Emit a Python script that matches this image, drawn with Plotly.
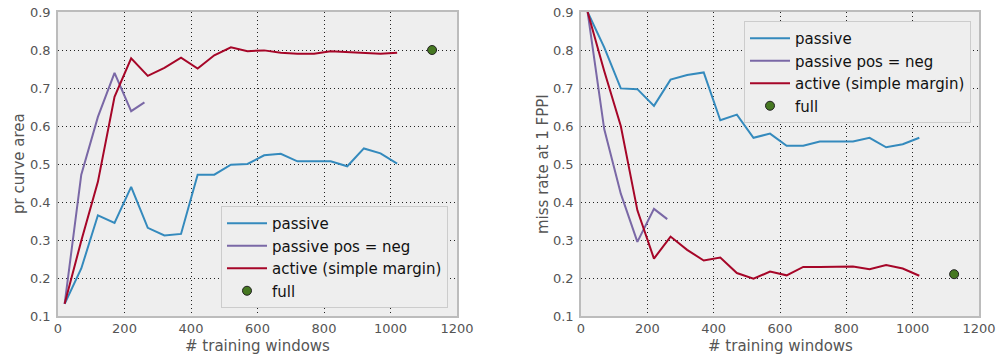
import plotly.graph_objects as go

x_main = [20, 70, 120, 170, 220, 270, 320, 370, 420, 470, 520, 570, 620, 670, 720, 770, 820, 870, 920, 970, 1020]
x_posneg = [20, 70, 120, 170, 220, 260]
x_full = [1125]

# left: pr curve area
pr_passive = [0.132, 0.225, 0.365, 0.345, 0.440, 0.332, 0.312, 0.316, 0.472, 0.472, 0.498,
              0.500, 0.523, 0.527, 0.507, 0.507, 0.507, 0.494, 0.541, 0.528, 0.501]
pr_posneg = [0.132, 0.472, 0.624, 0.740, 0.639, 0.662]
pr_active = [0.132, 0.298, 0.453, 0.677, 0.778, 0.732, 0.753, 0.780, 0.751, 0.786, 0.807,
             0.797, 0.799, 0.793, 0.790, 0.790, 0.797, 0.795, 0.792, 0.790, 0.793]
pr_full = [0.800]

# right: miss rate at 1 FPPI
mr_passive = [0.900, 0.807, 0.699, 0.697, 0.653, 0.722, 0.734, 0.741, 0.615, 0.630, 0.569,
              0.580, 0.548, 0.548, 0.559, 0.559, 0.559, 0.569, 0.544, 0.552, 0.569]
mr_posneg = [0.900, 0.592, 0.422, 0.295, 0.382, 0.355]
mr_active = [0.900, 0.745, 0.600, 0.378, 0.251, 0.309, 0.274, 0.246, 0.254, 0.213, 0.198,
             0.217, 0.207, 0.229, 0.229, 0.229, 0.230, 0.223, 0.234, 0.225, 0.206]
mr_full = [0.210]

names = ["passive", "passive pos = neg", "active (simple margin)", "full"]
colors = ["#348ABD", "#7A68A6", "#A60628", "#467821"]
x_ticks = [0, 200, 400, 600, 800, 1000, 1200]
y_ticks = [0.1, 0.2, 0.3, 0.4, 0.5, 0.6, 0.7, 0.8, 0.9]

W, H = 997, 356
FONT = "DejaVu Sans"

fig = go.Figure()

def add_panel(xa, ya, leg, ys_passive, ys_posneg, ys_active, ys_full):
    fig.add_trace(go.Scatter(x=x_main, y=ys_passive, mode="lines", name=names[0],
                             line=dict(color=colors[0], width=2), xaxis=xa, yaxis=ya, legend=leg))
    fig.add_trace(go.Scatter(x=x_posneg, y=ys_posneg, mode="lines", name=names[1],
                             line=dict(color=colors[1], width=2), xaxis=xa, yaxis=ya, legend=leg))
    fig.add_trace(go.Scatter(x=x_main, y=ys_active, mode="lines", name=names[2],
                             line=dict(color=colors[2], width=2), xaxis=xa, yaxis=ya, legend=leg))
    fig.add_trace(go.Scatter(x=x_full, y=ys_full, mode="markers", name=names[3],
                             marker=dict(color=colors[3], size=9, line=dict(color="#222222", width=1)),
                             xaxis=xa, yaxis=ya, legend=leg))

add_panel("x", "y", "legend", pr_passive, pr_posneg, pr_active, pr_full)
add_panel("x2", "y2", "legend2", mr_passive, mr_posneg, mr_active, mr_full)

def px_x(p):
    return p / W

def px_y(p):
    return 1 - p / H

axis_common = dict(
    showgrid=True, gridcolor="#222222", gridwidth=1, griddash="1px,3px",
    showline=True, linecolor="#bcbcbc", linewidth=1.5, mirror=True,
    ticks="", zeroline=False, automargin=False,
    tickfont=dict(family=FONT, size=13, color="#555555"),
)

legend_common = dict(bgcolor="#EEEEEE", bordercolor="#cccccc", borderwidth=1,
                     font=dict(family=FONT, size=15, color="#111111"), tracegroupgap=0,
                     itemwidth=40)

fig.update_layout(
    width=W, height=H,
    margin=dict(l=0, r=0, t=0, b=0),
    paper_bgcolor="white",
    plot_bgcolor="#EEEEEE",
    font=dict(family=FONT),
    xaxis=dict(domain=[px_x(58), px_x(457)], range=[0, 1200], tickvals=x_ticks,
               anchor="y", **axis_common),
    yaxis=dict(domain=[px_y(316), px_y(12)], range=[0.1, 0.9], tickvals=y_ticks,
               tickformat=".1f", anchor="x", ticklabelstandoff=3, **axis_common),
    xaxis2=dict(domain=[px_x(581), px_x(979)], range=[0, 1200], tickvals=x_ticks,
                anchor="y2", **axis_common),
    yaxis2=dict(domain=[px_y(316), px_y(12)], range=[0.1, 0.9], tickvals=y_ticks,
                tickformat=".1f", anchor="x2", ticklabelstandoff=3, **axis_common),
    legend=dict(x=px_x(448), y=px_y(308), xanchor="right", yanchor="bottom", **legend_common),
    legend2=dict(x=px_x(971), y=px_y(21), xanchor="right", yanchor="top", **legend_common),
    showlegend=True,
)

title_font = dict(family=FONT, size=15, color="#555555")
ann = dict(xref="paper", yref="paper", showarrow=False, font=title_font,
           xanchor="center", yanchor="middle")
fig.add_annotation(text="pr curve area", x=px_x(19), y=px_y(164), textangle=-90, **ann)
fig.add_annotation(text="# training windows", x=px_x(257), y=px_y(346), **ann)
fig.add_annotation(text="miss rate at 1 FPPI", x=px_x(543), y=px_y(164), textangle=-90, **ann)
fig.add_annotation(text="# training windows", x=px_x(780), y=px_y(346), **ann)

fig.write_html("out.html")
